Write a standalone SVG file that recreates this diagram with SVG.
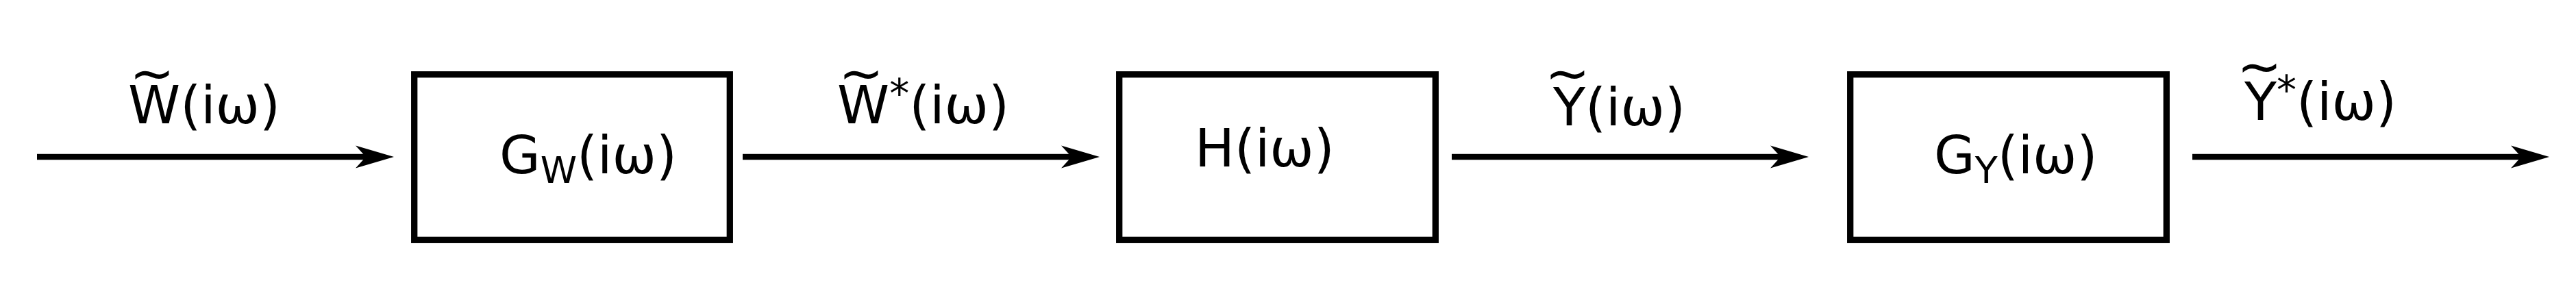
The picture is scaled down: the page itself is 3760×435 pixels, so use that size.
<svg xmlns="http://www.w3.org/2000/svg" width="3760" height="435" viewBox="0 0 3760 435">
<style>
.box{fill:none;stroke:#000;stroke-width:9.3}
.conn{stroke:#000;stroke-width:8.3;fill:none}
text{font-family:"DejaVu Sans","Liberation Sans",sans-serif;font-size:77px;fill:#000}
.sub{font-size:54px}
.sup{font-size:58px}
.tl{font-size:78px;text-anchor:middle}
</style>
<defs>
<marker id="arr" markerUnits="userSpaceOnUse" markerWidth="60" markerHeight="40" viewBox="-16 -20 60 40" refX="0" refY="0" orient="auto">
<path d="M41,0 L-15,-16.5 L0,0 L-15,16.5 Z" fill="#000"/>
</marker>
</defs>
<rect width="3760" height="435" fill="#fff"/>
<g id="connectors">
<line class="conn" x1="54" y1="229" x2="534" y2="229" marker-end="url(#arr)"/>
<line class="conn" x1="1084" y1="229" x2="1564" y2="229" marker-end="url(#arr)"/>
<line class="conn" x1="2119" y1="229" x2="2599" y2="229" marker-end="url(#arr)"/>
<line class="conn" x1="3200" y1="229" x2="3680" y2="229" marker-end="url(#arr)"/>
<text><tspan class="tl" x="222" y="134">~</tspan><tspan x="187" y="180">W(iω)</tspan></text>
<text><tspan class="tl" x="1257" y="134">~</tspan><tspan x="1222" y="180">W</tspan><tspan class="sup" dy="-23">*</tspan><tspan dy="23">(iω)</tspan></text>
<text><tspan class="tl" x="2288" y="134">~</tspan><tspan x="2267" y="183">Y(iω)</tspan></text>
<text><tspan class="tl" x="3298" y="124">~</tspan><tspan x="3276" y="175">Y</tspan><tspan class="sup" dy="-23">*</tspan><tspan dy="23">(iω)</tspan></text>
</g>
<g id="node-gw">
<rect class="box" x="604.7" y="108.7" width="460.6" height="241.6"/>
<text x="729" y="253">G<tspan class="sub" dy="14">W</tspan><tspan dy="-14">(iω)</tspan></text>
</g>
<g id="node-h">
<rect class="box" x="1633.7" y="108.7" width="461.6" height="241.6"/>
<text x="1744" y="243">H(iω)</text>
</g>
<g id="node-gy">
<rect class="box" x="2700.7" y="108.7" width="461.6" height="241.6"/>
<text x="2823" y="253">G<tspan class="sub" dy="14">Y</tspan><tspan dy="-14">(iω)</tspan></text>
</g>
</svg>
